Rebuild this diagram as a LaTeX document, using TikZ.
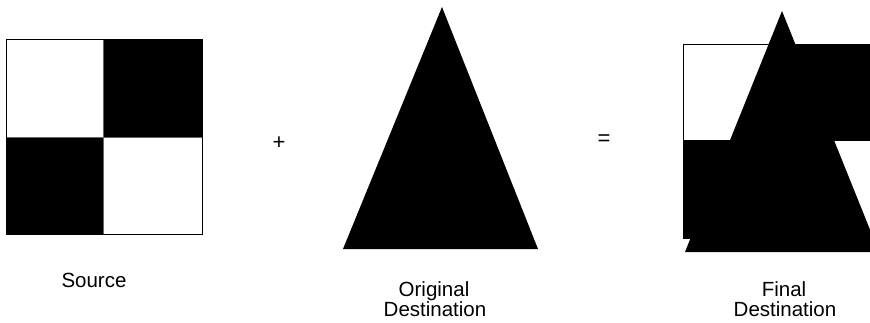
\documentclass[tikz,border=0pt]{standalone}
\usepackage{fontspec}
\setmainfont{Liberation Sans}
\begin{document}
\begin{tikzpicture}[x=1pt,y=-1pt,
  lbl/.style={inner sep=0pt,font=\fontsize{20.5}{18}\selectfont},
  sym/.style={inner sep=0pt,font=\fontsize{22}{18}\selectfont},
  edge/.style={draw=black,line width=1pt},
  blk/.style={fill=black}]
\useasboundingbox (0,0) rectangle (870,322);
% Source
\fill[white] (6,39) rectangle (202,234);
\fill[blk] (103,39) rectangle (202,137);
\fill[blk] (6,137) rectangle (103,234);
\draw[edge,draw=black!60,line width=0.8pt] (103,39) -- (103,234) (6,137) -- (202,137);
\draw[edge] (6,39) rectangle (202,234);
% plus
\node[sym] (plus) at (279,143) {+};
% Original destination triangle
\fill[blk] (442,7) -- (343,249) -- (538,249) -- cycle;
% equals
\node[sym] (eq) at (604,140) {=};
% Final destination
\begin{scope}
\clip (0,0) rectangle (870,322);
\fill[white] (683,44) rectangle (879,238);
\fill[blk] (781,44) rectangle (879,140);
\fill[blk] (683,140) rectangle (781,238);
\draw[edge] (683,44) rectangle (879,238);
\draw[edge,line width=0.8pt] (781,140) -- (879,140);
\fill[blk] (782,11) -- (685,252) -- (879,252) -- cycle;
\end{scope}
% labels
\node[lbl,anchor=base] (src) at (94,287) {Source};
\node[lbl,anchor=base] (orig1) at (434,296) {Original};
\node[lbl,anchor=base] (orig2) at (435,316) {Destination};
\node[lbl,anchor=base] (fin1) at (784,296) {Final};
\node[lbl,anchor=base] (fin2) at (785,316) {Destination};
\end{tikzpicture}
\end{document}
